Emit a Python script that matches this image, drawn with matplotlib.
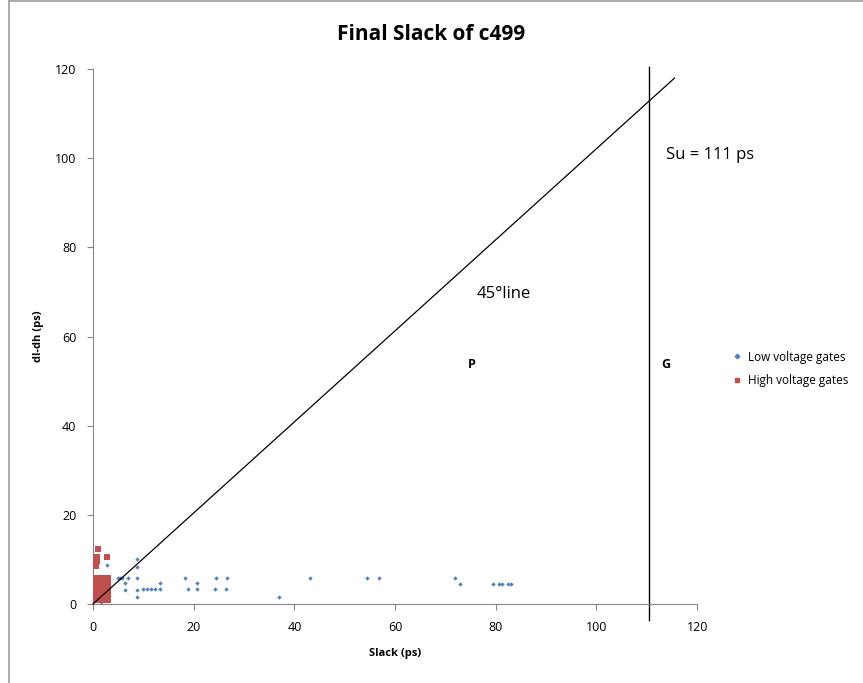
import matplotlib.pyplot as plt
from matplotlib.lines import Line2D

plt.rcParams['font.family'] = ['Open Sans', 'DejaVu Sans']

# low voltage gates (blue diamonds)
low_x = [8.7, 8.7, 5.0, 5.7, 6.9, 8.7, 6.4, 6.4, 8.7, 8.7,
         10.0, 10.8, 11.6, 12.3, 13.3, 13.3,
         18.3, 18.8, 20.6, 20.6, 24.4, 24.2, 26.7, 26.5,
         37.0, 43.0, 54.5, 56.9, 72.0, 72.8,
         79.4, 80.7, 81.2, 82.5, 83.1,
         0.7, 2.7, 1.0, 2.7, 0.6, 2.7, 3.0, 1.5, 5.4, 2.0]
low_y = [10.2, 8.2, 5.8, 5.8, 5.8, 5.8, 4.6, 3.1, 3.1, 1.6,
         3.4, 3.4, 3.4, 3.4, 3.4, 4.6,
         5.9, 3.3, 4.6, 3.3, 5.9, 3.3, 5.9, 3.3,
         1.5, 5.8, 5.8, 5.8, 5.8, 4.5,
         4.5, 4.5, 4.5, 4.5, 4.5,
         8.7, 8.7, 6.0, 6.0, 3.3, 1.6, 3.2, 0.5, 5.8, 4.6]

# high voltage gates (red squares)
high_x = [1.0, 0.0, 0.4, 0.8, 2.7, 0.2, 0.8, 0.0, 0.6,
          0.0, 0.5, 1.0, 1.5, 2.0, 2.5, 3.0,
          0.0, 0.5, 1.0, 1.5, 2.0, 2.5, 3.0,
          0.0, 0.5, 1.0, 1.5, 2.0, 2.5, 3.0,
          0.0, 0.5, 1.0, 1.5, 2.0, 2.5, 3.0,
          0.0, 0.5, 1.0, 1.5, 2.5, 3.0,
          0.0, 0.5, 1.0, 2.0, 3.0]
high_y = [12.4, 10.5, 10.5, 10.5, 10.5, 9.6, 9.6, 8.6, 8.6,
          5.8, 5.8, 5.8, 5.8, 5.8, 5.8, 5.8,
          4.8, 4.8, 4.8, 4.8, 4.8, 4.8, 4.8,
          3.8, 3.8, 3.8, 3.8, 3.8, 3.8, 3.8,
          2.8, 2.8, 2.8, 2.8, 2.8, 2.8, 2.8,
          1.8, 1.8, 1.8, 1.8, 1.8, 1.8,
          1.0, 1.0, 1.0, 1.0, 1.0]

diag_x = [0, 115.5]
diag_y = [0, 118]
su_x = 110.4   # where the Su line is drawn

fig = plt.figure(figsize=(8.63, 6.83), dpi=100)
ax = fig.add_axes([0.1078, 0.1157, 0.700, 0.783])

ax.scatter(low_x, low_y, marker='D', s=5, color='#4f81bd', zorder=2,
           linewidths=0, label='Low voltage gates')
ax.scatter(high_x, high_y, marker='s', s=14, color='#c0504d', zorder=3,
           linewidths=0, label='High voltage gates')

ax.plot(diag_x, diag_y, color='black', lw=0.9, clip_on=False, zorder=4)
ax.plot([su_x, su_x], [-3.6, 120.6], color='black', lw=1.0, clip_on=False)

ax.text(113.9, 100.7, 'Su = 111 ps', fontsize=12, va='center', ha='left')
ax.text(76.1, 69.5, '45°line', fontsize=12, va='center', ha='left')
ax.text(75.3, 53.8, 'P', fontsize=9, fontweight='bold', va='center', ha='center')
ax.text(113.7, 53.8, 'G', fontsize=9, fontweight='bold', va='center', ha='center')

ax.set_xlim(0, 120)
ax.set_ylim(0, 120)
ax.set_xticks(range(0, 121, 20))
ax.set_yticks(range(0, 121, 20))
for s in ['top', 'right']:
    ax.spines[s].set_visible(False)
for s in ['left', 'bottom']:
    ax.spines[s].set_color('#868686')
ax.tick_params(direction='out', length=4, color='#868686', labelsize=9, pad=8)

ax.set_xlabel('Slack (ps)', fontsize=8, fontweight='bold', labelpad=10)
ax.set_ylabel('dl-dh (ps)', fontsize=8, fontweight='bold', labelpad=8)
fig.suptitle('Final Slack of c499', fontsize=15, fontweight='bold', y=0.965)

handles = [Line2D([], [], marker='D', ls='', color='#4f81bd', markersize=2.3),
           Line2D([], [], marker='s', ls='', color='#c0504d', markersize=3.5)]
fig.legend(handles, ['Low voltage gates', 'High voltage gates'],
           loc='center left', bbox_to_anchor=(0.835, 0.46), frameon=False,
           fontsize=8.5, handletextpad=0.4, labelspacing=0.9, handlelength=1)

# chart border
fig.add_artist(Line2D([0.011, 0.011], [0, 0.998], color='#a0a0a0', lw=1.2))
fig.add_artist(Line2D([0.011, 1], [0.998, 0.998], color='#a0a0a0', lw=1.2))

fig.savefig('out.png', dpi=100)
